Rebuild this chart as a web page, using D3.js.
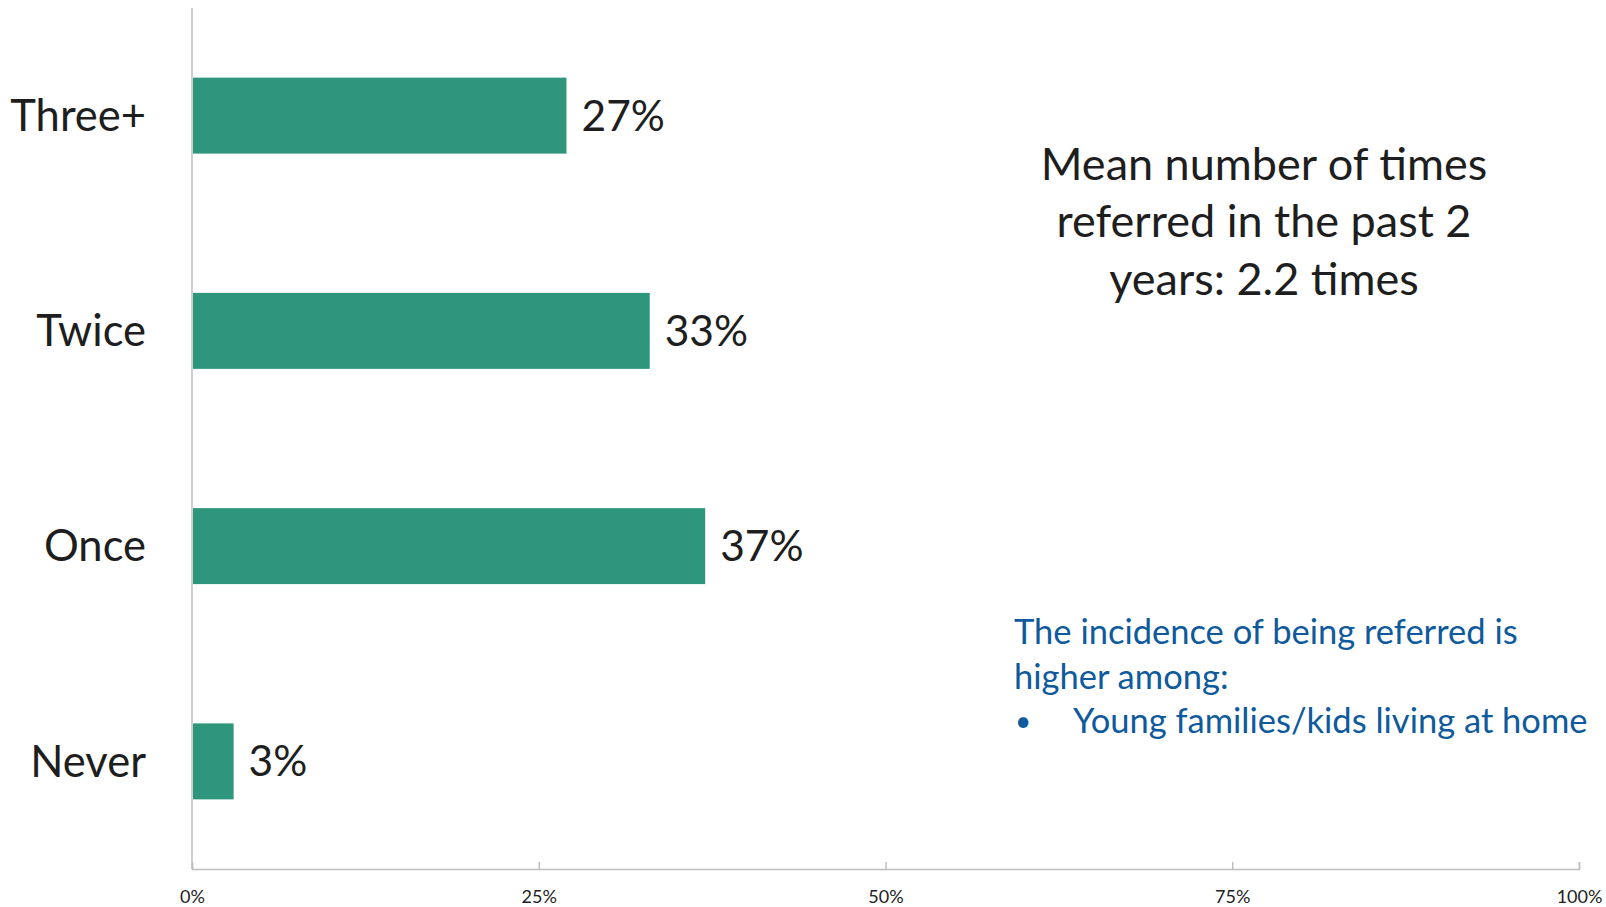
<!DOCTYPE html>
<html>
<head>
<meta charset="utf-8">
<script src="https://cdn.jsdelivr.net/npm/d3@7"></script>
<style>
  body { margin: 0; background: #fff; }
  text { font-family: Lato, "Open Sans", sans-serif; }
</style>
</head>
<body>
<div id="container" style="width:1606px;height:907px;"></div>
<script>
// data
let categories = ["Three+", "Twice", "Once", "Never"];
let values = [27, 33, 37, 3];
let xTicks = [0, 25, 50, 75, 100];
let meanNote = ["Mean number of times", "referred in the past 2", "years: 2.2 times"];
let incidenceNote = ["The incidence of being referred is", "higher among:"];
let incidenceBullets = ["Young families/kids living at home"];

// canvas
let width = 1606;
let height = 907;
let margin = { top: 8, right: 27, bottom: 38, left: 192 };
let svg = d3.select("#container")
    .append('svg')
    .attr('width', width)
    .attr('height', height);

// scales
let xScale = d3.scaleLinear()
    .domain([0, 100])
    .range([margin.left, width - margin.right]);

let yScale = d3.scaleBand()
    .domain(categories)
    .range([margin.top, height - margin.bottom])
    .paddingInner(0.647)
    .paddingOuter(0.3235);

// x axis
let xAxis = d3.axisBottom(xScale)
    .tickValues(xTicks)
    .tickSize(-7)
    .tickPadding(0)
    .tickFormat(d => d + "%");

let xg = svg.append('g')
    .attr('transform', "translate(0," + (height - margin.bottom) + ")")
    .call(xAxis);
xg.select('.domain').attr('stroke', '#bfbfbf').attr('stroke-width', 1.5);
xg.selectAll('.tick line').attr('stroke', '#bfbfbf').attr('stroke-width', 1.5);
xg.selectAll('.tick text')
    .attr('y', 28)
    .attr('dy', '0.35em')
    .attr('fill', '#222')
    .style('font-size', '18px');

// y axis line
svg.append('line')
    .attr('x1', xScale(0)).attr('x2', xScale(0))
    .attr('y1', margin.top).attr('y2', height - margin.bottom)
    .attr('stroke', '#bfbfbf')
    .attr('stroke-width', 1.5);

// category labels
svg.selectAll('.cat')
    .data(categories)
    .enter()
    .append('text')
    .attr('class', 'cat')
    .attr('x', xScale(0) - 46)
    .attr('y', d => yScale(d) + yScale.bandwidth() / 2)
    .attr('dy', '0.35em')
    .attr('text-anchor', 'end')
    .attr('fill', '#1e1e1e')
    .style('font-size', '43.5px')
    .text(d => d);

// bars
svg.selectAll('.bar')
    .data(values)
    .enter()
    .append('rect')
    .attr('class', 'bar')
    .attr('x', xScale(0) + 1)
    .attr('y', (d, i) => yScale(categories[i]))
    .attr('width', d => xScale(d) - xScale(0) - 1)
    .attr('height', yScale.bandwidth())
    .attr('fill', '#2e967c');

// value labels
svg.selectAll('.val')
    .data(values)
    .enter()
    .append('text')
    .attr('class', 'val')
    .attr('x', d => xScale(d) + 15)
    .attr('y', (d, i) => yScale(categories[i]) + yScale.bandwidth() / 2)
    .attr('dy', '0.35em')
    .attr('fill', '#1e1e1e')
    .style('font-size', '42.5px')
    .text(d => d + "%");

// mean note
svg.append('text')
    .attr('x', 1264)
    .attr('y', 164)
    .attr('text-anchor', 'middle')
    .attr('fill', '#1e1e1e')
    .style('font-size', '45px')
    .selectAll('tspan')
    .data(meanNote)
    .enter()
    .append('tspan')
    .attr('x', 1264)
    .attr('y', (d, i) => 164 + i * 57.5)
    .attr('dy', '0.35em')
    .text(d => d);

// incidence note
let note = svg.append('g')
    .attr('fill', '#0e5a9c')
    .style('font-size', '34.5px');
note.selectAll('.line')
    .data(incidenceNote)
    .enter()
    .append('text')
    .attr('x', 1014)
    .attr('y', (d, i) => 632 + i * 44.5)
    .attr('dy', '0.35em')
    .text(d => d);
note.selectAll('.bullet')
    .data(incidenceBullets)
    .enter()
    .append('g')
    .each(function (d, i) {
        let g = d3.select(this);
        let y = 632 + (incidenceNote.length + i) * 44.5;
        g.append('text').attr('x', 1015).attr('y', y).attr('dy', '0.35em')
            .style('font-size', '28px').text('\u2022');
        g.append('text').attr('x', 1073).attr('y', y).attr('dy', '0.35em').text(d);
    });
</script>
</body>
</html>
